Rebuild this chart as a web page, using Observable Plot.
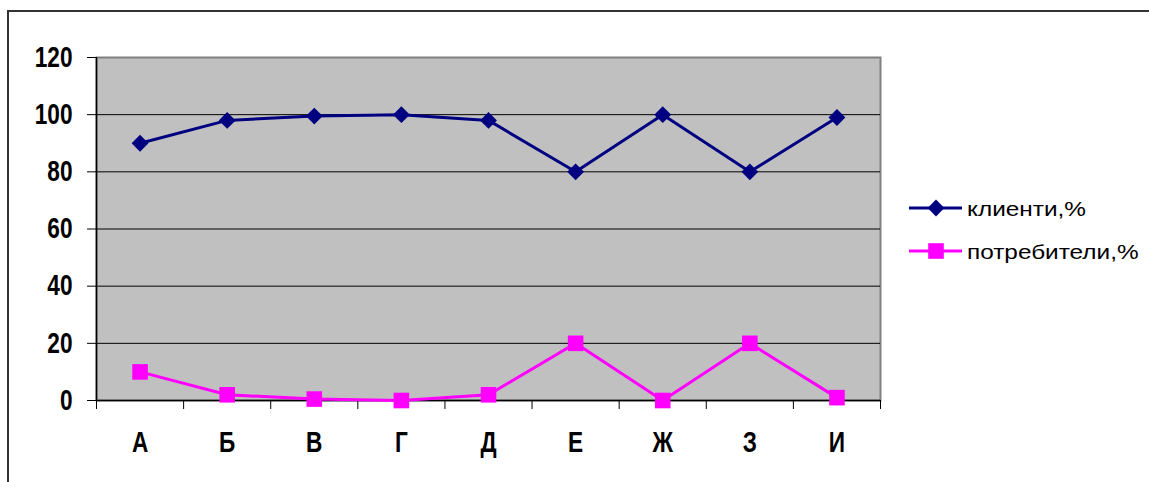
<!DOCTYPE html>
<html>
<head>
<meta charset="utf-8">
<script src="https://cdn.jsdelivr.net/npm/d3@7"></script>
<script src="https://cdn.jsdelivr.net/npm/@observablehq/plot@0.6"></script>
<style>
  html, body { margin: 0; padding: 0; background: #fff; }
  #wrap { position: relative; width: 1149px; height: 482px; overflow: hidden; }
  #border { position: absolute; left: 7px; top: 10px; width: 1200px; height: 500px;
            border-left: 2px solid #333; border-top: 2px solid #333; box-sizing: border-box; }
  #chart { position: absolute; left: 0; top: 0; }
  #legend { position: absolute; left: 0; top: 0; }
</style>
</head>
<body>
<div id="wrap">
  <div id="border"></div>
  <div id="chart"></div>
  <svg id="legend" width="1149" height="482"></svg>
</div>
<script>
const categories = ["А", "Б", "В", "Г", "Д", "Е", "Ж", "З", "И"];
const clients = [90, 98, 99.5, 100, 98, 80, 100, 80, 99];
const consumers = [10, 2, 0.5, 0, 2, 20, 0, 20, 1];
const yTicks = [0, 20, 40, 60, 80, 100, 120];
const seriesNames = ["клиенти,%", "потребители,%"];
const seriesColors = ["#000080", "#ff00ff"];

const font = "'Liberation Sans', Arial, sans-serif";
const xPos = (d, i) => i + 0.5;
const boundaries = d3.range(categories.length + 1);

const rows1 = categories.map((c, i) => ({cat: c, i, v: clients[i]}));
const rows2 = categories.map((c, i) => ({cat: c, i, v: consumers[i]}));

const chart = Plot.plot({
  width: 1149,
  height: 482,
  marginLeft: 96,
  marginRight: 269,
  marginTop: 57,
  marginBottom: 82,
  style: {background: "transparent", color: "black", overflow: "visible"},
  x: {domain: [0, categories.length], axis: null},
  y: {domain: [0, 120], axis: null},
  marks: [
    Plot.frame({fill: "#c0c0c0", stroke: "#808080", strokeWidth: 2}),
    Plot.gridY(yTicks.filter(t => t > 0 && t < 120), {stroke: "black", strokeOpacity: 1, strokeWidth: 1}),
    Plot.ruleY([0], {stroke: "black", strokeWidth: 1.5}),
    Plot.ruleX([0], {stroke: "black", strokeWidth: 1.5}),
    Plot.axisY({ticks: yTicks, tickSize: 9, tickPadding: 15, fontSize: 29, fontWeight: "bold",
                fontFamily: font, label: null, stroke: "black"}),
    Plot.axisX({ticks: boundaries, tickSize: 9, tickFormat: () => "", label: null, stroke: "black"}),
    Plot.text(categories, {x: xPos, y: () => 0, dy: 42, fontSize: 29, fontWeight: "bold",
                           fontFamily: font, fill: "black"}),
    Plot.line(rows1, {x: d => d.i + 0.5, y: "v", stroke: seriesColors[0], strokeWidth: 3}),
    Plot.dot(rows1, {x: d => d.i + 0.5, y: "v", symbol: "diamond2", r: 7.6, fill: seriesColors[0], stroke: "none"}),
    Plot.line(rows2, {x: d => d.i + 0.5, y: "v", stroke: seriesColors[1], strokeWidth: 3}),
    Plot.dot(rows2, {x: d => d.i + 0.5, y: "v", symbol: "square", r: 8.8, fill: seriesColors[1], stroke: "none"})
  ]
});
document.getElementById("chart").appendChild(chart);

// condense the bold tick/category labels horizontally
chart.querySelectorAll("text").forEach(t => {
  const xv = +(t.getAttribute("x") || 0);
  const tr = t.getAttribute("transform") || "";
  t.setAttribute("transform", `${tr} translate(${xv},0) scale(0.78,1) translate(${-xv},0)`);
});

// Legend
const leg = d3.select("#legend");
const legY = [208, 251];
const symbols = [d3.symbolDiamond2, d3.symbolSquare];
const symSizes = [Math.PI * 7.6 * 7.6, Math.PI * 8.8 * 8.8];
seriesNames.forEach((name, k) => {
  const g = leg.append("g").attr("transform", `translate(0,${legY[k]})`);
  g.append("line").attr("x1", 909).attr("x2", 962).attr("y1", 0).attr("y2", 0)
    .attr("stroke", seriesColors[k]).attr("stroke-width", 3);
  g.append("path").attr("d", d3.symbol(symbols[k], symSizes[k])())
    .attr("transform", "translate(936,0)").attr("fill", seriesColors[k]);
  g.append("text").attr("x", 0).attr("y", 0)
    .attr("transform", "translate(967,7.5) scale(1.16,1)")
    .attr("font-family", font)
    .attr("font-size", 21).attr("fill", "black").text(name);
});
</script>
</body>
</html>
